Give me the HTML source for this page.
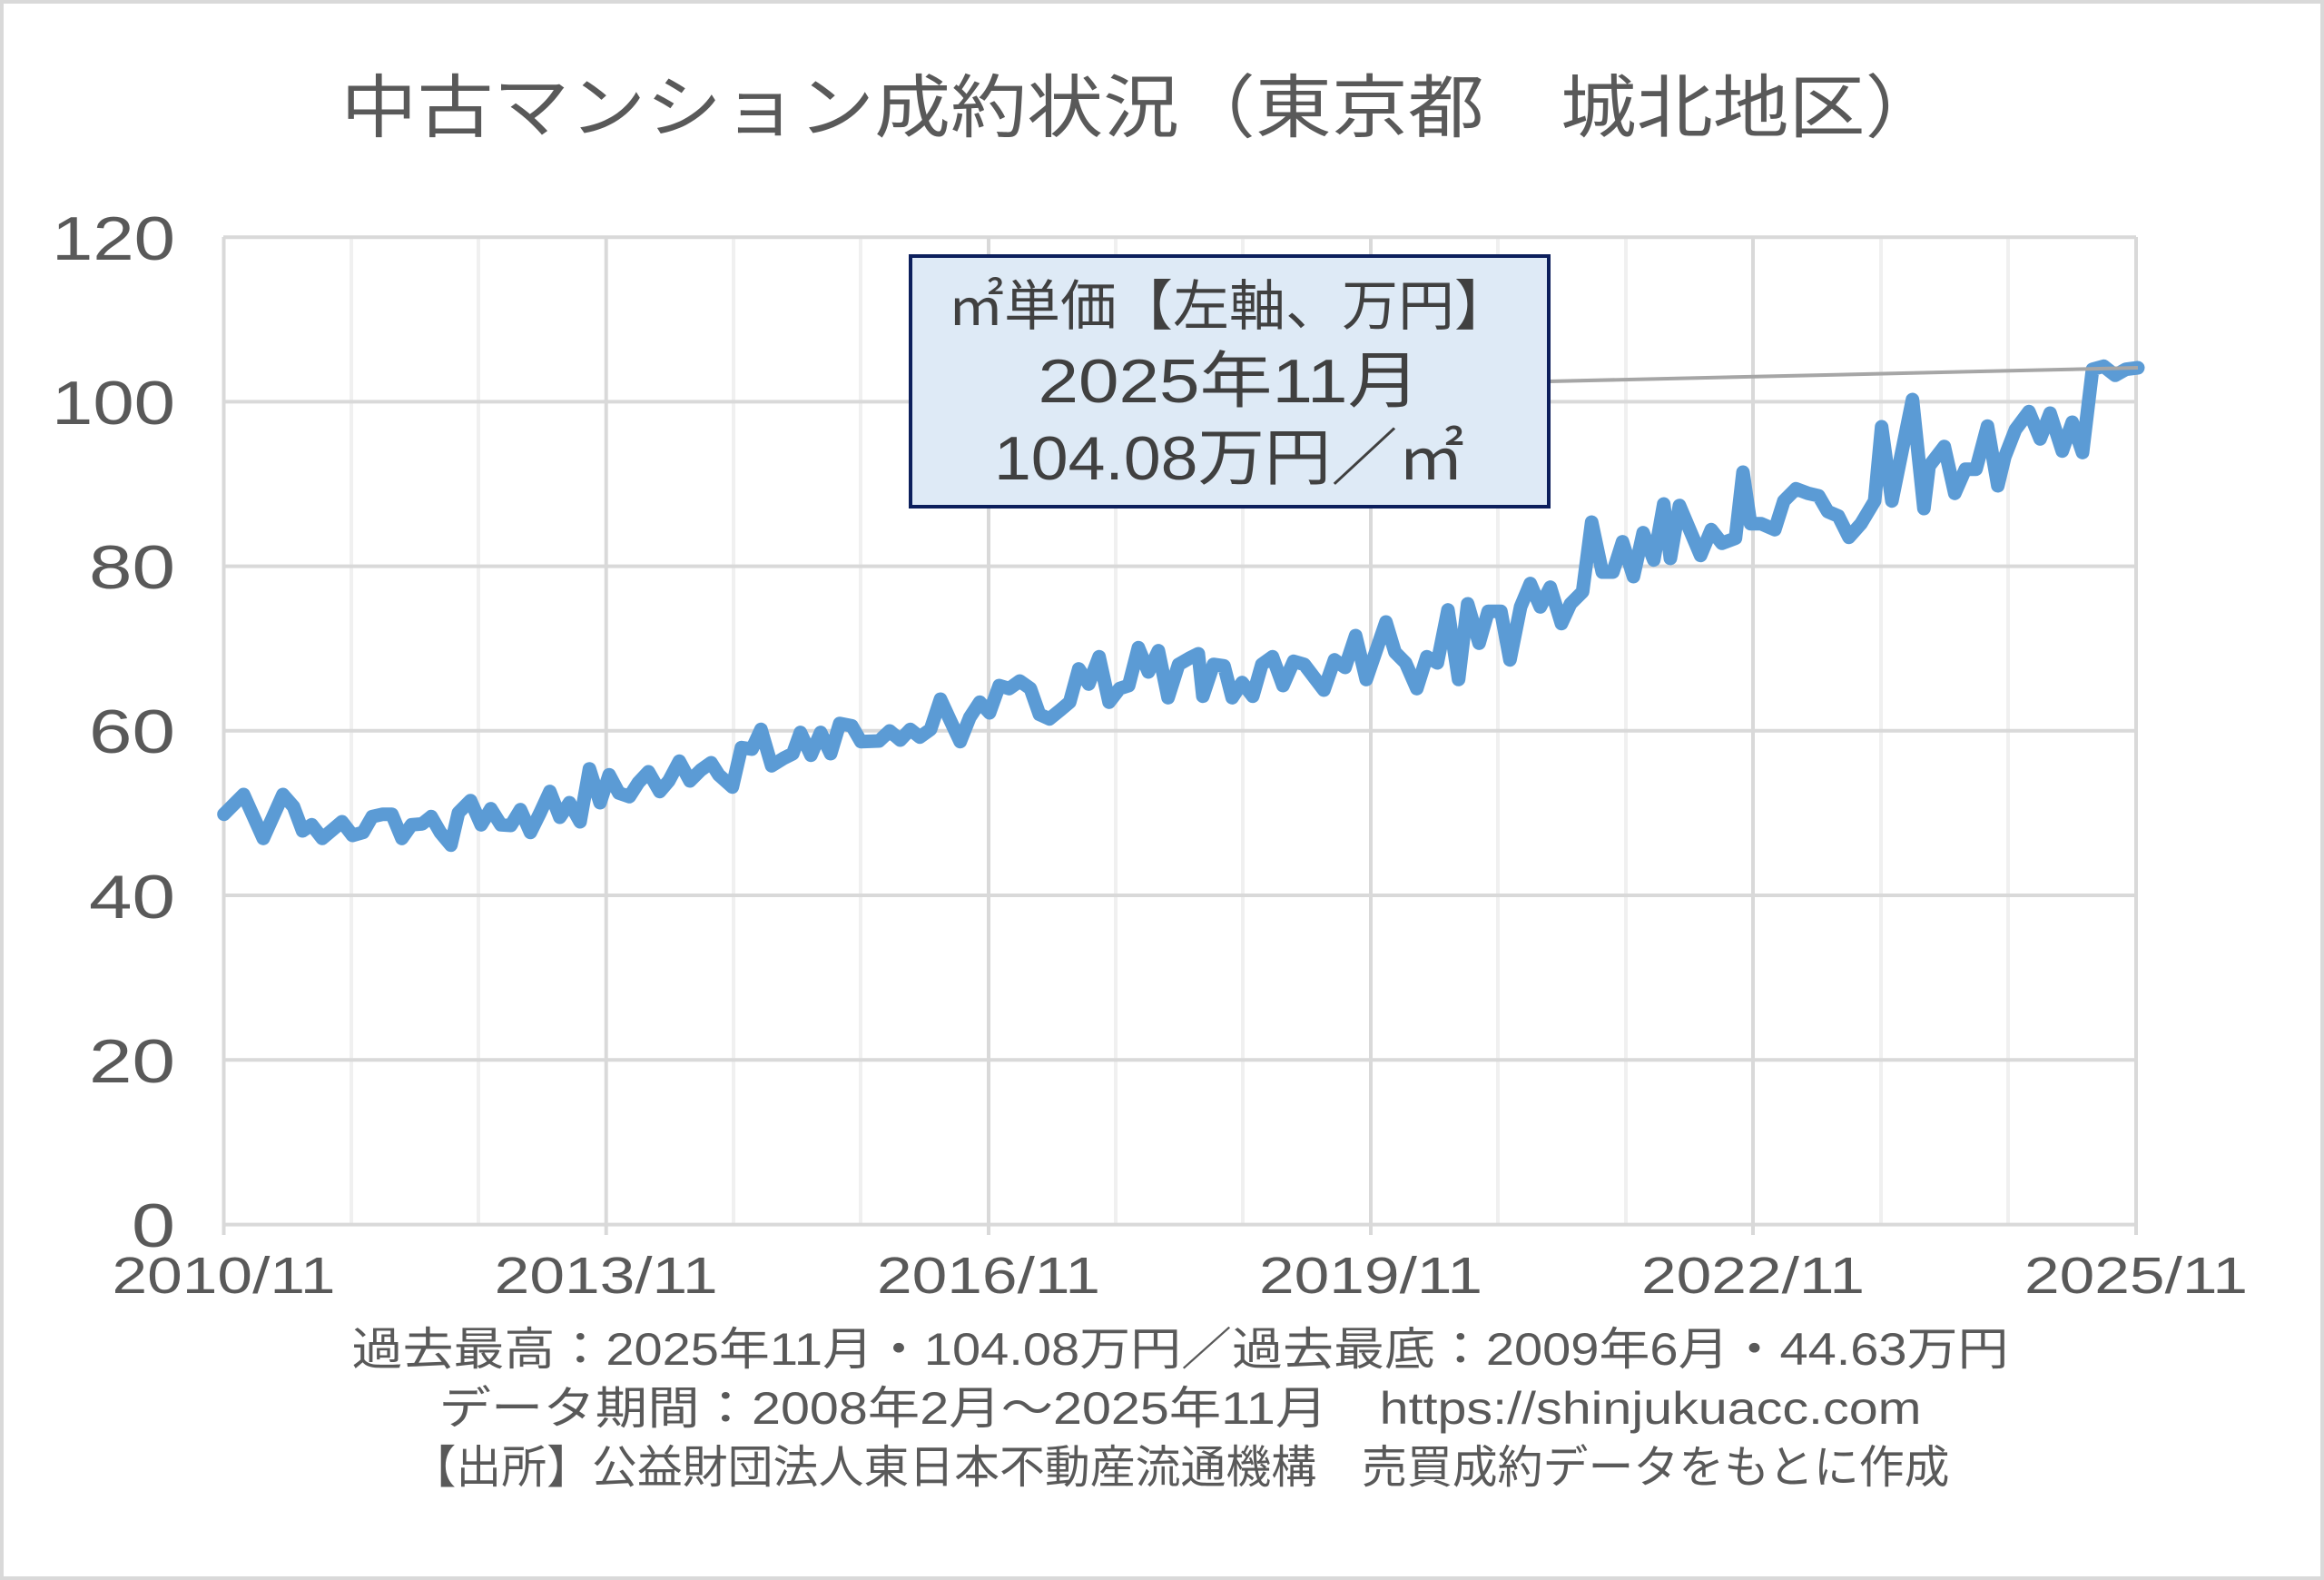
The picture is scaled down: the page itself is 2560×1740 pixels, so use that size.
<!DOCTYPE html>
<html><head><meta charset="utf-8"><style>
html,body{margin:0;padding:0;background:#fff}
svg{display:block}
text{font-family:"Liberation Sans","Noto Sans CJK JP",sans-serif;fill:#595959}
</style></head><body>
<svg width="2560" height="1740" viewBox="0 0 2560 1740" xmlns="http://www.w3.org/2000/svg">
<rect x="2" y="2" width="2556" height="1736" fill="#fff" stroke="#d9d9d9" stroke-width="4"/>
<text x="1257" y="145" font-size="76" text-anchor="middle" textLength="1763" lengthAdjust="spacingAndGlyphs">中古マンション成約状況（東京都　城北地区）</text>
<g stroke="#f0f0f0" stroke-width="4">
<line x1="387" y1="261" x2="387" y2="1349"/><line x1="527" y1="261" x2="527" y2="1349"/>
<line x1="808" y1="261" x2="808" y2="1349"/><line x1="948" y1="261" x2="948" y2="1349"/>
<line x1="1229" y1="261" x2="1229" y2="1349"/><line x1="1369" y1="261" x2="1369" y2="1349"/>
<line x1="1650" y1="261" x2="1650" y2="1349"/><line x1="1791" y1="261" x2="1791" y2="1349"/>
<line x1="2072" y1="261" x2="2072" y2="1349"/><line x1="2212" y1="261" x2="2212" y2="1349"/>
</g>
<g stroke="#d9d9d9" stroke-width="4">
<line x1="246.5" y1="261" x2="246.5" y2="1360"/><line x1="667.7" y1="261" x2="667.7" y2="1360"/>
<line x1="1089" y1="261" x2="1089" y2="1360"/><line x1="1510" y1="261" x2="1510" y2="1360"/>
<line x1="1931" y1="261" x2="1931" y2="1360"/><line x1="2353" y1="261" x2="2353" y2="1360"/>
<line x1="246" y1="261.2" x2="2353" y2="261.2"/><line x1="246" y1="442.4" x2="2353" y2="442.4"/>
<line x1="246" y1="623.6" x2="2353" y2="623.6"/><line x1="246" y1="804.8" x2="2353" y2="804.8"/>
<line x1="246" y1="986" x2="2353" y2="986"/><line x1="246" y1="1167.2" x2="2353" y2="1167.2"/>
<line x1="246" y1="1348.6" x2="2353" y2="1348.6"/>
</g>
<g font-size="68" text-anchor="end" lengthAdjust="spacingAndGlyphs">
<text x="193" y="286" textLength="136" lengthAdjust="spacingAndGlyphs">120</text>
<text x="193" y="467" textLength="136" lengthAdjust="spacingAndGlyphs">100</text>
<text x="193" y="648" textLength="95" lengthAdjust="spacingAndGlyphs">80</text>
<text x="193" y="829" textLength="95" lengthAdjust="spacingAndGlyphs">60</text>
<text x="193" y="1011" textLength="95" lengthAdjust="spacingAndGlyphs">40</text>
<text x="193" y="1192" textLength="95" lengthAdjust="spacingAndGlyphs">20</text>
<text x="193" y="1373" textLength="48" lengthAdjust="spacingAndGlyphs">0</text>
</g>
<g font-size="57" text-anchor="middle">
<text x="246.5" y="1424" textLength="246" lengthAdjust="spacingAndGlyphs">2010/11</text>
<text x="667.7" y="1424" textLength="246" lengthAdjust="spacingAndGlyphs">2013/11</text>
<text x="1089" y="1424" textLength="246" lengthAdjust="spacingAndGlyphs">2016/11</text>
<text x="1510" y="1424" textLength="246" lengthAdjust="spacingAndGlyphs">2019/11</text>
<text x="1931" y="1424" textLength="246" lengthAdjust="spacingAndGlyphs">2022/11</text>
<text x="2353" y="1424" textLength="246" lengthAdjust="spacingAndGlyphs">2025/11</text>
</g>
<polyline fill="none" stroke="#5b9bd5" stroke-width="15" stroke-linejoin="round" stroke-linecap="round" points="246.7,896.7 268.3,875 290,923.3 311.7,875 323.3,888.3 333.3,915 343.3,908.3 355,923.3 376.7,905 388.3,920 400,916.7 410,899.3 421.7,896.7 431.7,896.7 442.7,923.3 453.3,908.3 465,907.3 475,899.3 485,916.7 496.7,930.7 505,895 518.3,881.7 530,908.3 540.7,890.7 551.7,908.3 562.7,909 573.3,891.7 584.3,916.7 595,895 605.7,871.7 616.7,900 627.3,884 639,905 649.3,846.7 661,884 671,853.3 681.7,873.3 693.3,877.3 703.3,861.7 714.3,850 726.7,871.7 736.7,860 748.3,838.3 760,860 772,848 783.3,840 791.7,853.3 806.7,866.7 816.7,823.3 828.3,825 838.3,803.3 850,843.3 863.3,835 873.3,830 881.7,806.7 893.3,831.7 904,806.7 915,830 925,796.7 938.3,799.3 948.3,816.7 968.3,816 980,805 991.7,815 1002.7,803.3 1013.3,811.7 1025,803.3 1036,770 1046.7,793.3 1057.7,816.7 1068.3,790 1079.3,773.3 1090,785 1100.7,755 1111.7,758.3 1123.3,750 1135,758.3 1145,786.7 1156,791.7 1168.3,781.7 1178.3,773.3 1188.3,736.7 1199.3,753.3 1210.7,723.3 1221.7,773.3 1233.3,758.3 1243.3,755 1254,713.3 1265,740 1276,716.7 1286.7,768.3 1298.3,731.7 1310,725 1320,720 1325,766.7 1336.7,731.7 1348.3,733.3 1357.3,768.3 1368.3,751.7 1380,766.7 1390,731.7 1401.7,723.3 1413.3,755 1425,728.3 1436.7,731.7 1458.3,760 1470,726.7 1481.7,735 1493.3,700 1505,748.3 1526.7,685 1536.7,718.3 1548.3,730 1560.7,758.3 1571.7,723.3 1583.3,730 1595,671.7 1606.7,748.3 1616.7,665 1629.3,708.3 1639.3,673.3 1653.3,673.3 1663.3,726.7 1675,668.3 1685.7,642.7 1696.7,668.3 1707.7,646.7 1720,686.7 1730,665 1743.3,651.7 1753.3,575 1765,630 1776.7,630 1787.3,596.7 1799.3,635 1810,586.7 1821.7,616.7 1832.7,555 1840,615 1850,556.7 1873.3,611.7 1885,583.3 1896.7,598.3 1911.7,592.7 1920,520 1928.3,576.7 1940,576.7 1955,583.3 1965,551.7 1978.3,538.3 1991.7,543.3 2003.3,546 2013.3,563.3 2025,568.3 2036.7,591.7 2050,576.7 2065,551.7 2072.7,470 2084,551.7 2106.7,440 2119.3,560 2125,513.3 2141.7,491.7 2153.3,543.3 2165,516.7 2176.7,516.7 2189.3,469.3 2200.7,535 2208.3,503.3 2220,473.3 2235,453.3 2247.3,483.3 2258.3,455 2271.7,496.7 2282.7,465 2294,498.3 2305,406.7 2317.3,403.3 2330,413.3 2341.7,406.7 2355,405"/>
<line x1="1706" y1="420" x2="2355" y2="405" stroke="#a6a6a6" stroke-width="4"/>
<rect x="1003" y="282" width="703" height="276" fill="#deeaf6" stroke="#0c1f5c" stroke-width="4"/>
<text x="1354" y="358" font-size="60" text-anchor="middle" style="fill:#404040" textLength="620" lengthAdjust="spacingAndGlyphs">㎡単価【左軸、万円】</text>
<text x="1354" y="443" font-size="68" text-anchor="middle" style="fill:#404040" textLength="421" lengthAdjust="spacingAndGlyphs">2025年11月</text>
<text x="1354" y="528" font-size="68" text-anchor="middle" style="fill:#404040" textLength="518" lengthAdjust="spacingAndGlyphs">104.08万円／㎡</text>
<g font-size="50" text-anchor="middle">
<text x="1300" y="1503" textLength="1825" lengthAdjust="spacingAndGlyphs">過去最高：2025年11月・104.08万円／過去最底：2009年6月・44.63万円</text>
<text x="1300" y="1568" textLength="1633" lengthAdjust="spacingAndGlyphs">データ期間：2008年2月～2025年11月　https://shinjukuacc.com</text>
<text x="1300" y="1633" textLength="1695" lengthAdjust="spacingAndGlyphs">【出所】公益財団法人東日本不動産流通機構　売買成約データをもとに作成</text>
</g>
</svg>
</body></html>
